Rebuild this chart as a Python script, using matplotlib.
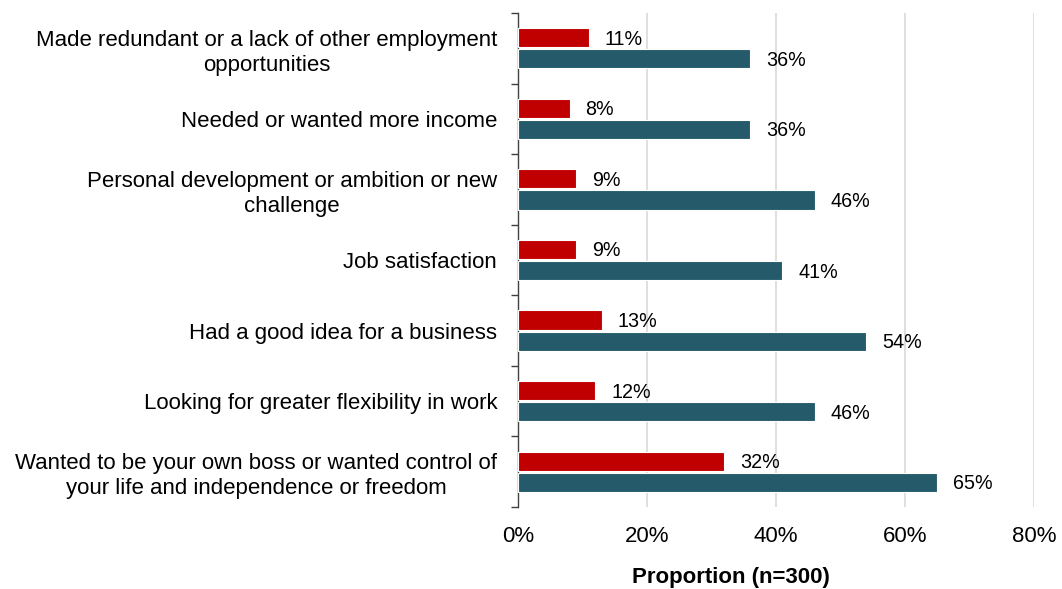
import matplotlib
matplotlib.use("Agg")
import matplotlib.pyplot as plt
import numpy as np

plt.rcParams['font.family'] = ['Liberation Sans', 'DejaVu Sans']

categories = [
    "Made redundant or a lack of other employment\nopportunities",
    "Needed or wanted more income",
    "Personal development or ambition or new\nchallenge",
    "Job satisfaction",
    "Had a good idea for a business",
    "Looking for greater flexibility in work",
    "Wanted to be your own boss or wanted control of\nyour life and independence or freedom",
]
main_reason = [11, 8, 9, 9, 13, 12, 32]
any_reason = [36, 36, 46, 41, 54, 46, 65]
x_ticks = [0, 20, 40, 60, 80]
x_ticklabels = ["0%", "20%", "40%", "60%", "80%"]

RED = "#C00000"
TEAL = "#245A69"

W, H = 1062, 589
fig = plt.figure(figsize=(W / 100, H / 100), dpi=100)
ax = fig.add_axes([518 / W, 1 - 507 / H, (1034 - 518) / W, (507 - 13) / H])

y = np.arange(len(categories))
h = 0.27
off = 0.15

b1 = ax.barh(y - off, main_reason, height=h, color=RED, edgecolor="white", linewidth=0.8, zorder=3)
b2 = ax.barh(y + off, any_reason, height=h, color=TEAL, edgecolor="white", linewidth=0.8, zorder=3)

for bars, vals in ((b1, main_reason), (b2, any_reason)):
    for bar, v in zip(bars, vals):
        ax.annotate(f"{v}%", xy=(v, bar.get_y() + bar.get_height() / 2),
                    xytext=(16, -1.5), textcoords="offset pixels",
                    ha="left", va="center", fontsize=14.2, color="#000000")

ax.set_xlim(0, 80)
ax.set_ylim(len(categories) - 0.5, -0.5)

ax.set_xticks(x_ticks)
ax.set_xticklabels(x_ticklabels, fontsize=16)
ax.tick_params(axis="x", length=0, pad=14)

ax.set_yticks(y)
ax.set_yticklabels(categories, fontsize=16, multialignment="center", linespacing=1.25)
ax.set_yticks(np.arange(len(categories) + 1) - 0.5, minor=True)
ax.tick_params(axis="y", which="major", length=0, pad=15)
ax.tick_params(axis="y", which="minor", length=5, width=1, color="#404040", direction="out")

ax.grid(axis="x", color="#D9D9D9", linewidth=1.2, zorder=0)
ax.set_axisbelow(True)

for s in ("top", "right", "bottom"):
    ax.spines[s].set_visible(False)
ax.spines["left"].set_color("#404040")
ax.spines["left"].set_linewidth(1)

fig.text(731 / W, 1 - 578 / H, "Proportion (n=300)", fontsize=16, fontweight="bold",
         ha="center", va="center")

fig.savefig("out.png", dpi=100)
